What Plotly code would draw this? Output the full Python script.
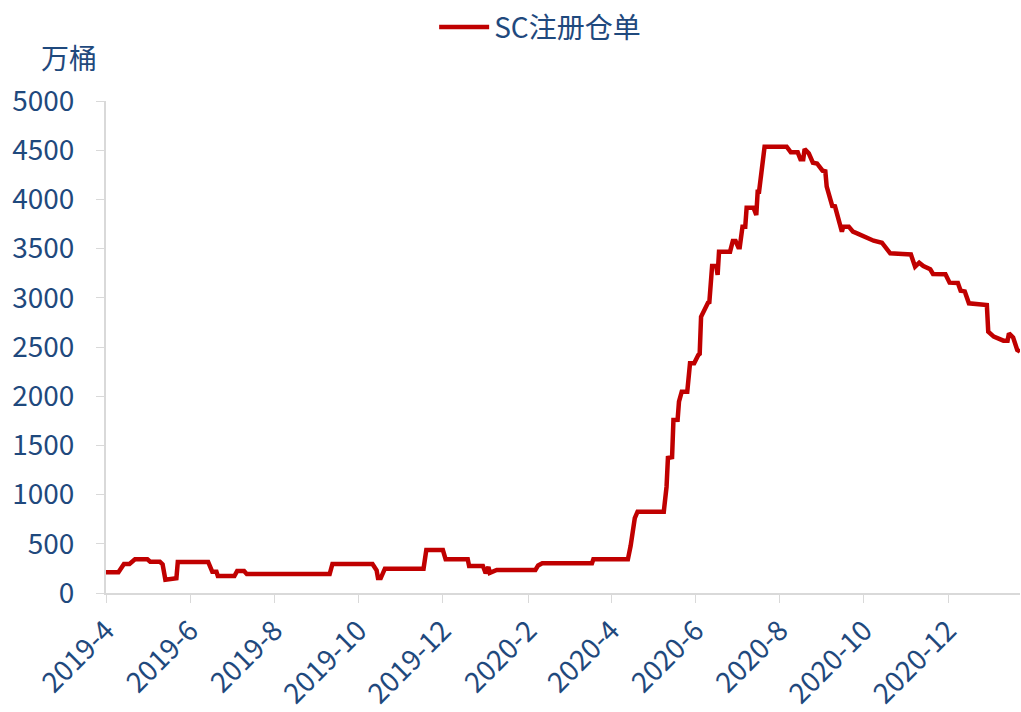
"""
SC注册仓单 走势图 (Plotly 复刻)
"""

import plotly.graph_objects as go

# 日期与仓单数量 (万桶)
datas = [
    "2019-04-01", "2019-04-10", "2019-04-14", "2019-04-18", "2019-04-22",
    "2019-05-01", "2019-05-03", "2019-05-10", "2019-05-12", "2019-05-14",
    "2019-05-22", "2019-05-23", "2019-06-14", "2019-06-17", "2019-06-20",
    "2019-06-21", "2019-07-03", "2019-07-05", "2019-07-10", "2019-07-12",
    "2019-09-10", "2019-09-12", "2019-10-11", "2019-10-14", "2019-10-15",
    "2019-10-17", "2019-10-20", "2019-11-17", "2019-11-19", "2019-12-01",
    "2019-12-03", "2019-12-19", "2019-12-20", "2019-12-30", "2020-01-01",
    "2020-01-03", "2020-01-04", "2020-01-08", "2020-01-09", "2020-02-06",
    "2020-02-08", "2020-02-11", "2020-03-18", "2020-03-19", "2020-04-13",
    "2020-04-15", "2020-04-17", "2020-04-18", "2020-04-20", "2020-05-09",
    "2020-05-11", "2020-05-12", "2020-05-15", "2020-05-16", "2020-05-19",
    "2020-05-20", "2020-05-22", "2020-05-26", "2020-05-28", "2020-05-31",
    "2020-06-03", "2020-06-04", "2020-06-05", "2020-06-08", "2020-06-10",
    "2020-06-11", "2020-06-13", "2020-06-16", "2020-06-17", "2020-06-18",
    "2020-06-26", "2020-06-28", "2020-06-30", "2020-07-02", "2020-07-03",
    "2020-07-05", "2020-07-07", "2020-07-08", "2020-07-13", "2020-07-15",
    "2020-07-16", "2020-07-17", "2020-07-19", "2020-07-21", "2020-08-06",
    "2020-08-09", "2020-08-14", "2020-08-16", "2020-08-18", "2020-08-19",
    "2020-08-22", "2020-08-25", "2020-08-28", "2020-09-01", "2020-09-03",
    "2020-09-04", "2020-09-08", "2020-09-10", "2020-09-15", "2020-09-16",
    "2020-09-20", "2020-09-23", "2020-09-26", "2020-10-03", "2020-10-08",
    "2020-10-14", "2020-10-20", "2020-10-29", "2020-11-04", "2020-11-07",
    "2020-11-10", "2020-11-13", "2020-11-18", "2020-11-20", "2020-11-29",
    "2020-12-02", "2020-12-08", "2020-12-10", "2020-12-13", "2020-12-16",
    "2020-12-22", "2020-12-29", "2020-12-30", "2021-01-03", "2021-01-10",
    "2021-01-13", "2021-01-14", "2021-01-17", "2021-01-20", "2021-01-22",
]
valores = [
    210, 210, 295, 295, 342,
    342, 318, 318, 290, 135,
    150, 315, 315, 215, 215,
    173, 173, 224, 224, 192,
    192, 295, 295, 230, 152,
    152, 247, 247, 437, 437,
    342, 342, 274, 274, 200,
    265, 205, 220, 234, 234,
    280, 302, 302, 342, 342,
    480, 700, 760, 826, 826,
    1080, 1372, 1380, 1758, 1760,
    1944, 2046, 2046, 2334, 2334,
    2419, 2430, 2808, 2910, 2950,
    2955, 3323, 3323, 3232, 3469,
    3469, 3577, 3577, 3513, 3513,
    3723, 3723, 3916, 3916, 3841,
    4078, 4078, 4299, 4536, 4536,
    4478, 4478, 4407, 4407, 4512,
    4468, 4373, 4365, 4292, 4285,
    4129, 3933, 3930, 3672, 3723,
    3723, 3672, 3655, 3615, 3580,
    3560, 3452, 3445, 3440, 3316,
    3357, 3323, 3290, 3242, 3240,
    3154, 3150, 3072, 3065, 2944,
    2940, 2927, 2656, 2605, 2564,
    2564, 2639, 2598, 2470, 2452,
]

# 横轴刻度 (每两个月)
ticks_x = [
    "2019-04-01", "2019-06-01", "2019-08-01", "2019-10-01", "2019-12-01",
    "2020-02-01", "2020-04-01", "2020-06-01", "2020-08-01", "2020-10-01",
    "2020-12-01",
]
rotulos_x = [
    "2019-4", "2019-6", "2019-8", "2019-10", "2019-12",
    "2020-2", "2020-4", "2020-6", "2020-8", "2020-10", "2020-12",
]
ticks_y = [0, 500, 1000, 1500, 2000, 2500, 3000, 3500, 4000, 4500, 5000]

COR_TEXTO = "#1f497d"
COR_LINHA = "#c00000"
COR_EIXO = "#d9d9d9"
FONTE = "Noto Sans CJK SC, Noto Sans, sans-serif"

fig = go.Figure()

fig.add_trace(
    go.Scatter(
        x=datas,
        y=valores,
        mode="lines",
        name="SC注册仓单",
        line={"color": COR_LINHA, "width": 4.5},
        cliponaxis=False,
    )
)

fig.add_annotation(
    text="万桶",
    xref="paper",
    yref="paper",
    x=-0.041,
    y=1.045,
    xanchor="center",
    yanchor="bottom",
    showarrow=False,
    font={"size": 28, "color": COR_TEXTO, "family": FONTE},
)

fig.update_layout(
    width=1021,
    height=712,
    paper_bgcolor="white",
    plot_bgcolor="white",
    font={"family": FONTE, "color": COR_TEXTO, "size": 28},
    margin={"l": 106, "r": 1, "t": 101, "b": 119, "autoexpand": False},
    showlegend=True,
    legend={
        "orientation": "h",
        "x": 0.475,
        "xanchor": "center",
        "y": 1.15,
        "yanchor": "middle",
        "font": {"size": 28, "color": COR_TEXTO},
        "itemwidth": 50,
    },
    xaxis={
        "type": "date",
        "range": ["2019-04-01", "2021-01-22"],
        "tickmode": "array",
        "tickvals": ticks_x,
        "ticktext": rotulos_x,
        "tickangle": -45,
        "ticks": "outside",
        "ticklen": 8,
        "tickcolor": COR_EIXO,
        "showline": True,
        "linecolor": COR_EIXO,
        "linewidth": 2,
        "showgrid": False,
        "zeroline": False,
        "automargin": False,
    },
    yaxis={
        "range": [0, 5000],
        "tickmode": "array",
        "tickvals": ticks_y,
        "ticks": "outside",
        "ticklen": 8,
        "tickcolor": COR_EIXO,
        "ticklabelstandoff": 16,
        "showline": True,
        "linecolor": COR_EIXO,
        "linewidth": 2,
        "showgrid": False,
        "zeroline": False,
        "automargin": False,
    },
)

# tira a margem padrao do body para a figura ocupar a janela inteira
fig.write_html(
    "out.html",
    config={"displayModeBar": False},
    post_script="document.body.style.margin='0';",
)
